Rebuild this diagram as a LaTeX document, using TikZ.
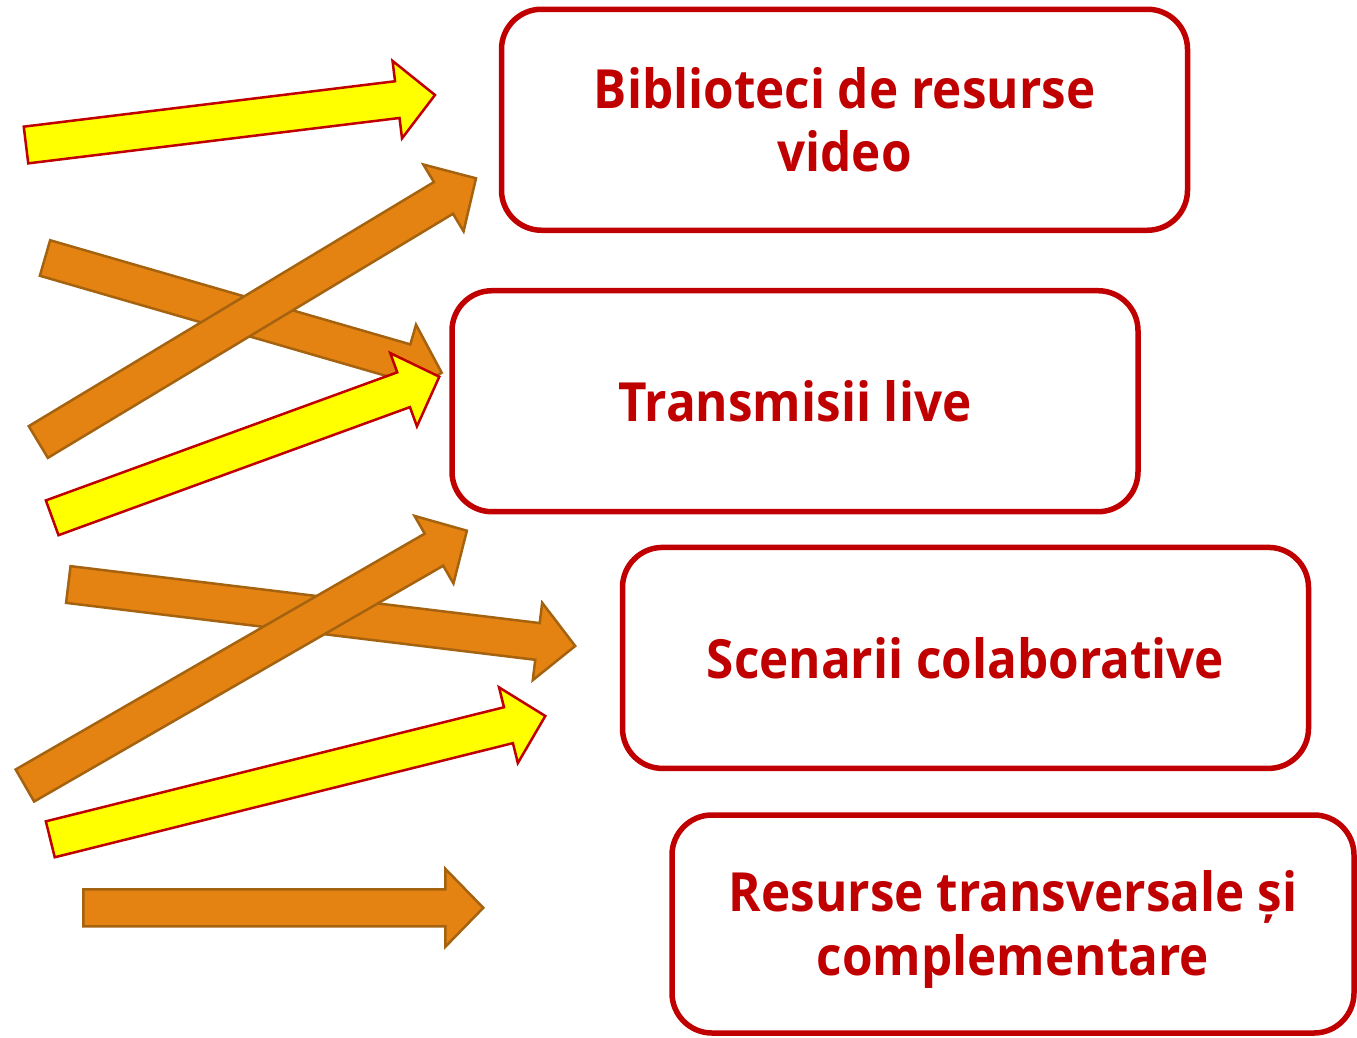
\documentclass[tikz,border=0pt]{standalone}
\usepackage{fontspec}
\setmainfont{Open Sans}[FakeStretch=0.915]
\usetikzlibrary{calc}
\definecolor{boxred}{RGB}{192,0,0}
\definecolor{arrorange}{RGB}{228,131,18}
\definecolor{arrbrown}{RGB}{165,98,15}
\definecolor{arryellow}{RGB}{255,255,0}
\newcommand\blockarrow[3]{%
  \coordinate (hb) at ($(#3)!38pt!(#2)$);
  \draw[#1] ($(#2)!18.5pt!90:(#3)$) -- ($(hb)!18.5pt!90:(#3)$) -- ($(hb)!39pt!90:(#3)$) -- (#3)
    -- ($(hb)!39pt!-90:(#3)$) -- ($(hb)!18.5pt!-90:(#3)$) -- ($(#2)!18.5pt!-90:(#3)$) -- cycle;
}
\begin{document}
\begin{tikzpicture}[x=1pt,y=-1pt,
  box/.style={draw=boxred, line width=5.5pt, rounded corners=40pt, minimum width=686pt,
    minimum height=221pt, inner sep=0pt, align=center, text=boxred,
    font=\fontsize{54}{63.5}\selectfont\bfseries},
  orangearrow/.style={fill=arrorange, draw=arrbrown, line width=2.5pt, line join=miter},
  yellowarrow/.style={fill=arryellow, draw=boxred, line width=2.5pt, line join=miter}]
\useasboundingbox (0,0) rectangle (1357,1037);

\node[box] (b1) at (844.5,119.75) {Biblioteci de resurse\\video};
\node[box] (b2) at (795,401.2) {Transmisii live};
\node[box] (b3) at (965.5,657.9) {Scenarii colaborative};
\node[box, minimum width=682pt, minimum height=218pt] (b4) at (1013,924)
  {\raisebox{-7pt}[\height][\depth]{\begin{tabular}{@{}c@{}}Resurse transversale și\\complementare\end{tabular}}};

\coordinate (t1) at (26,145);     \coordinate (p1) at (435,95);
\coordinate (t2) at (45,258);     \coordinate (p2) at (441.7,372.7);
\coordinate (t3) at (38.3,442);   \coordinate (p3) at (476,178.3);
\coordinate (t4) at (52.2,517.8); \coordinate (p4) at (439.3,376.7);
\coordinate (t5) at (68.3,584.5); \coordinate (p5) at (575.2,646);
\coordinate (t6) at (24.9,785.5); \coordinate (p6) at (466.9,530.7);
\coordinate (t7) at (50.3,839.3); \coordinate (p7) at (545.3,716);
\coordinate (t8) at (83.4,907.8); \coordinate (p8) at (483.3,907.8);

\blockarrow{yellowarrow}{t1}{p1}
\blockarrow{orangearrow}{t2}{p2}
\blockarrow{orangearrow}{t3}{p3}
\blockarrow{yellowarrow}{t4}{p4}
\blockarrow{orangearrow}{t5}{p5}
\blockarrow{orangearrow}{t6}{p6}
\blockarrow{yellowarrow}{t7}{p7}
\blockarrow{orangearrow}{t8}{p8}
\end{tikzpicture}
\end{document}
